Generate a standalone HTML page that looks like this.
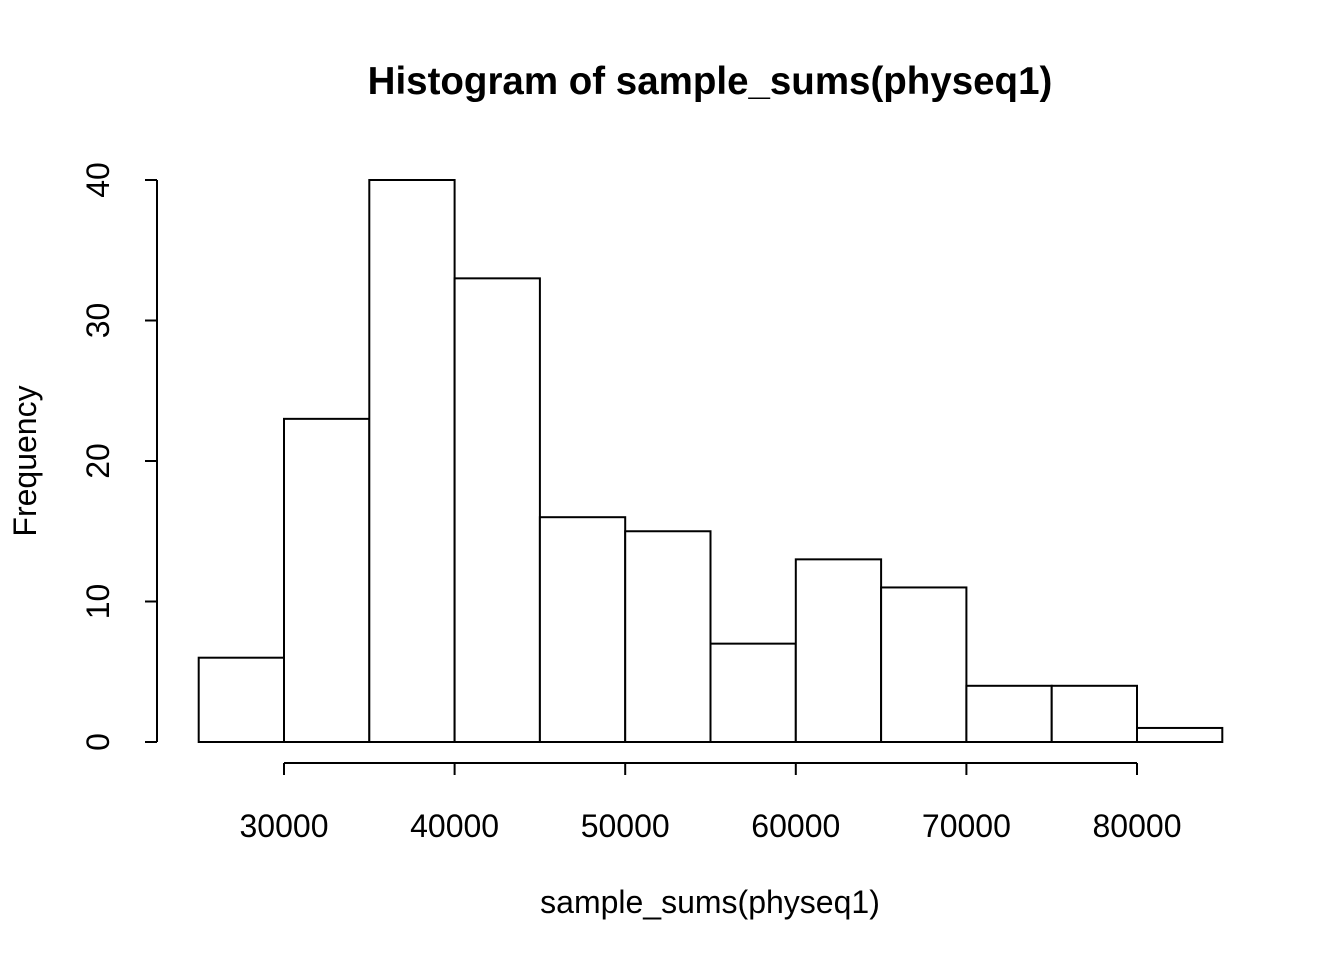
<!DOCTYPE html>
<html><head><meta charset="utf-8"><style>
html,body{margin:0;padding:0;background:#fff;}
svg{display:block;font-family:"Liberation Sans",Arial,sans-serif;}
</style></head><body>
<svg id="chart" width="1344" height="960" viewBox="0 0 1344 960" xmlns="http://www.w3.org/2000/svg">
<text x="710" y="94" text-anchor="middle" font-size="38.5" font-weight="bold">Histogram of sample_sums(physeq1)</text>
<text x="710" y="913" text-anchor="middle" font-size="32">sample_sums(physeq1)</text>
<text transform="translate(36,461) rotate(-90)" text-anchor="middle" font-size="32">Frequency</text>
<g id="bars"></g>
<g id="xaxis"></g>
<g id="yaxis"></g>
</svg>
<script>
const binStarts = [25000,30000,35000,40000,45000,50000,55000,60000,65000,70000,75000,80000];
const binWidth = 5000;
const counts = [6,23,40,33,16,15,7,13,11,4,4,1];
const xTicks = [30000,40000,50000,60000,70000,80000];
const yTicks = [0,10,20,30,40];
const NS="http://www.w3.org/2000/svg";
const xs = v => 284 + (v-30000)*(1137-284)/50000;
const ys = v => 742 - v*(742-180)/40;
function mk(tag, attrs, parent){const e=document.createElementNS(NS,tag);for(const k in attrs)e.setAttribute(k,attrs[k]);parent.appendChild(e);return e;}
const bars=document.getElementById('bars');
binStarts.forEach((b,i)=>{
  const x0=xs(b), x1=xs(b+binWidth), y=ys(counts[i]);
  const r=mk('rect',{x:x0,y:y,width:x1-x0,height:ys(0)-y,fill:'#fff',stroke:'#000','stroke-width':2},bars);
  
  
});
const xa=document.getElementById('xaxis');
mk('line',{x1:xs(xTicks[0]),x2:xs(xTicks[xTicks.length-1]),y1:763,y2:763,stroke:'#000','stroke-width':2},xa);
xTicks.forEach(t=>{
  mk('line',{x1:xs(t),x2:xs(t),y1:763,y2:775,stroke:'#000','stroke-width':2},xa);
  const tx=mk('text',{x:xs(t),y:837,'text-anchor':'middle','font-size':32},xa);
  tx.textContent=t;
  
  
});
const ya=document.getElementById('yaxis');
mk('line',{x1:157,x2:157,y1:ys(yTicks[0]),y2:ys(yTicks[yTicks.length-1]),stroke:'#000','stroke-width':2},ya);
yTicks.forEach(t=>{
  mk('line',{x1:145,x2:157,y1:ys(t),y2:ys(t),stroke:'#000','stroke-width':2},ya);
  const tx=mk('text',{transform:`translate(109,${ys(t)}) rotate(-90)`,'text-anchor':'middle','font-size':32},ya);
  tx.textContent=t;
  
  
});
</script>
</body></html>
